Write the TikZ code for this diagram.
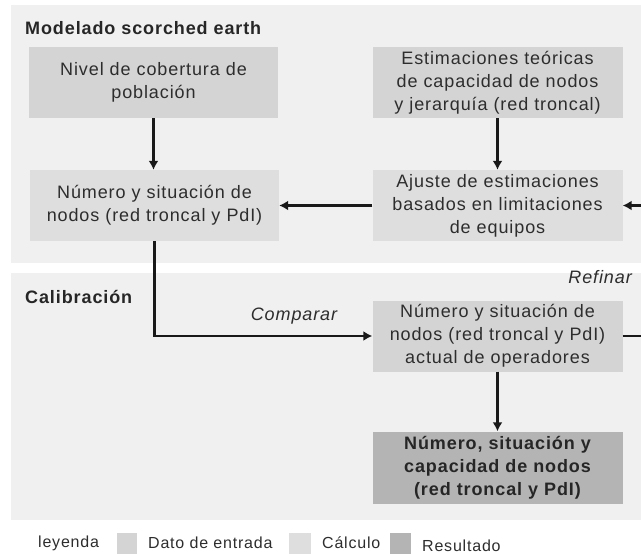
\documentclass[tikz,border=0pt]{standalone}
\usepackage{fontspec}
\setmainfont{Liberation Sans}[LetterSpace=5]
\usetikzlibrary{arrows.meta}
\definecolor{panelc}{RGB}{240,240,240}
\definecolor{inputc}{RGB}{212,212,212}
\definecolor{calcc}{RGB}{222,222,222}
\definecolor{resc}{RGB}{180,180,180}
\definecolor{txtc}{RGB}{45,45,45}
\tikzset{
  box/.style={rectangle, inner sep=0pt, minimum width=250pt, minimum height=71pt,
    text width=246pt, align=center, text=txtc, font=\fontsize{18}{23}\selectfont},
  inbox/.style={box, fill=inputc},
  calcbox/.style={box, fill=calcc},
  resbox/.style={box, fill=resc, font=\fontsize{18}{23}\selectfont\bfseries, text=black!85},
  lbl/.style={inner sep=0pt, text=txtc, font=\fontsize{18}{22}\selectfont},
  ttl/.style={inner sep=0pt, text=black!85, font=\fontsize{18}{22}\selectfont\bfseries},
  leg/.style={inner sep=0pt, text=txtc, font=\fontsize{16}{20}\selectfont},
  arr/.style={line width=2.3pt, black!90, -{Latex[length=9pt,width=10pt]}},
}
\begin{document}
\begin{tikzpicture}[x=1pt,y=-1pt]
\useasboundingbox (0,0) rectangle (641,554);
% panels
\fill[panelc] (11,5) rectangle (645,263);
\fill[panelc] (11,273) rectangle (645,520);
% titles
\node[ttl, anchor=west] (t1) at (25,28) {Modelado scorched earth};
\node[ttl, anchor=west] (t2) at (25,297) {Calibración};
% boxes
\node[inbox, minimum width=249pt] (nivel) at (153.5,82.5) {Nivel de cobertura de\\población};
\node[calcbox, minimum width=249pt] (numero) at (154.5,205.5) {Número y situación de\\nodos (red troncal y PdI)};
\node[inbox] (estim) at (497.5,82.5) {Estimaciones teóricas\\de capacidad de nodos\\y jerarquía (red troncal)};
\node[calcbox] (ajuste) at (497.5,205.5) {Ajuste de estimaciones\\basados en limitaciones\\de equipos};
\node[inbox] (actual) at (497.5,336) {Número y situación de\\nodos (red troncal y PdI)\\actual de operadores};
\node[resbox, minimum height=72pt] (res) at (497.5,467.5) {Número, situación y\\capacidad de nodos\\(red troncal y PdI)};
% connectors
\draw[arr] (nivel.south) -- (nivel.south |- numero.north);
\draw[arr] (estim.south) -- (ajuste.north);
\draw[arr] (ajuste.west) -- (numero.east);
\draw[arr] (numero.south) |- (actual.west);
\draw[arr] (actual.south) -- (res.north);
\coordinate (rt) at (665,336);
\draw[arr] (actual.east) -- (rt) |- (ajuste.east);
% edge labels
\node[lbl, font=\fontsize{18}{22}\selectfont\itshape] (cmp) at (294,316) {Comparar};
\node[lbl, font=\fontsize{18}{22}\selectfont\itshape, anchor=east] (ref) at (632,277) {Refinar};
% legend
\node[leg, anchor=west] (ley) at (38,543) {leyenda};
\node[fill=inputc, minimum width=20pt, minimum height=21pt, inner sep=0pt, anchor=north west] (sq1) at (117,533) {};
\node[leg, anchor=west] (l1) at (148,543) {Dato de entrada};
\node[fill=calcc, minimum width=22pt, minimum height=21pt, inner sep=0pt, anchor=north west] (sq2) at (289,533) {};
\node[leg, anchor=west] (l2) at (322,543) {Cálculo};
\node[fill=resc, minimum width=21pt, minimum height=21pt, inner sep=0pt, anchor=north west] (sq3) at (390,533) {};
\node[leg, anchor=west] (l3) at (422,546) {Resultado};
\end{tikzpicture}
\end{document}
